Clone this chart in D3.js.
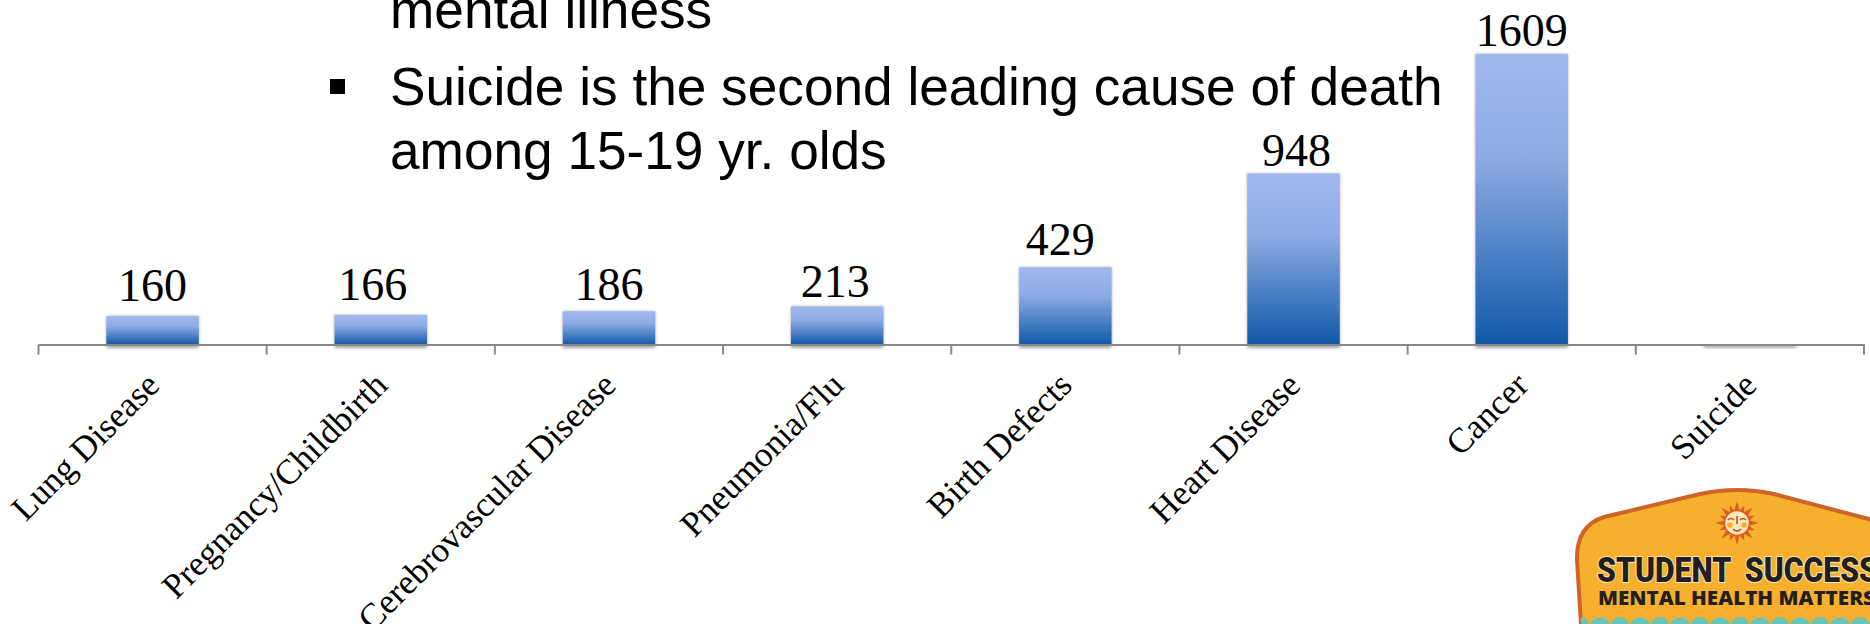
<!DOCTYPE html>
<html>
<head>
<meta charset="utf-8">
<script src="https://cdn.jsdelivr.net/npm/d3@7"></script>
<style>
  html, body { margin: 0; padding: 0; background: #fff; overflow: hidden; }
  svg { display: block; }
</style>
</head>
<body>
<div id="chart"></div>
<script>
const categories = ['Lung Disease', 'Pregnancy/Childbirth', 'Cerebrovascular Disease', 'Pneumonia/Flu', 'Birth Defects', 'Heart Disease', 'Cancer', 'Suicide'];
const deaths = [160, 166, 186, 213, 429, 948, 1609, 0];
const shownLabels = ['160', '166', '186', '213', '429', '948', '1609', ''];
const bulletLines = ['mental illness', 'Suicide is the second leading cause of death', 'among 15-19 yr. olds'];

// labels were dragged by hand in the original slide
const labelNudgeX = [0, -8, 0, -2, -5, 3, 0, 0];
const labelNudgeY = [0, 0, 4, 6, 3, 7, 7, 0];

const width = 1870;
const height = 624;
const axisY = 345;
const axisLeft = 38.5;
const axisRight = 1864;

const svg = d3.select('#chart').append('svg')
  .attr('width', width)
  .attr('height', height)
  .attr('viewBox', [0, 0, width, height].join(' '));

const defs = svg.append('defs');

const grad = defs.append('linearGradient')
  .attr('id', 'barFill')
  .attr('x1', 0).attr('y1', 0).attr('x2', 0).attr('y2', 1);
grad.append('stop').attr('offset', '0%').attr('stop-color', '#9fb9ef');
grad.append('stop').attr('offset', '35%').attr('stop-color', '#8fabe4');
grad.append('stop').attr('offset', '100%').attr('stop-color', '#0f59a9');

defs.append('filter')
  .attr('id', 'barShadow')
  .attr('x', '-10%').attr('y', '-10%').attr('width', '120%').attr('height', '130%')
  .append('feGaussianBlur')
  .attr('stdDeviation', 1.6);

// X axis
const x = d3.scaleBand()
  .range([axisLeft, axisRight])
  .domain(categories)
  .paddingInner(0.595)
  .paddingOuter(0.2975);

// Y axis, hidden in the original
const y = d3.scaleLinear()
  .domain([0, 1609])
  .range([axisY, 54]);

const rows = categories.map((c, i) => ({ name: c, value: deaths[i], label: shownLabels[i], dx: labelNudgeX[i], dy: labelNudgeY[i] }));

// Shadows
svg.append('g').selectAll('rect')
  .data(rows)
  .enter()
  .append('rect')
  .attr('x', d => x(d.name))
  .attr('width', x.bandwidth())
  .attr('y', d => y(d.value))
  .attr('height', d => axisY - y(d.value) + 3)
  .attr('fill', '#8a8a8a')
  .attr('fill-opacity', 0.75)
  .attr('filter', 'url(#barShadow)');

// Bars
svg.append('g').selectAll('rect')
  .data(rows)
  .enter()
  .append('rect')
  .attr('x', d => x(d.name))
  .attr('width', x.bandwidth())
  .attr('y', d => y(d.value))
  .attr('height', d => axisY - y(d.value))
  .attr('fill', 'url(#barFill)');

// Axis line and labels
const axisG = svg.append('g')
  .attr('transform', `translate(0,${axisY - 0.5})`)
  .call(d3.axisBottom(x).tickSize(0).tickSizeOuter(0));

axisG.select('.domain')
  .attr('stroke', '#888')
  .attr('stroke-width', 2);

axisG.selectAll('text')
  .attr('transform', 'translate(0,34)rotate(-45)')
  .attr('x', 0)
  .attr('y', 0)
  .attr('dy', '0.35em')
  .style('text-anchor', 'end')
  .style('font-family', '"Liberation Serif", serif')
  .style('font-size', '35px')
  .style('fill', '#000');

// Ticks sit between the bands
const tickEdges = categories.map(c => x(c) - x.step() * x.paddingInner() / 2);
tickEdges.push(axisRight);
axisG.selectAll('.edge-tick')
  .data(tickEdges)
  .enter()
  .append('line')
  .attr('class', 'edge-tick')
  .attr('x1', d => d)
  .attr('x2', d => d)
  .attr('y1', 0)
  .attr('y2', 10)
  .attr('stroke', '#888')
  .attr('stroke-width', 2);

// Value labels
svg.append('g').selectAll('text')
  .data(rows)
  .enter()
  .append('text')
  .attr('x', d => x(d.name) + x.bandwidth() / 2 + d.dx)
  .attr('y', d => y(d.value) - 15 + d.dy)
  .attr('text-anchor', 'middle')
  .style('font-family', '"Liberation Serif", serif')
  .style('font-size', '46px')
  .style('fill', '#000')
  .text(d => d.label);

// Slide text behind the chart
const slideText = svg.append('g')
  .style('font-family', '"Liberation Sans", Arial, sans-serif')
  .style('font-size', '53.2px')
  .style('fill', '#000');

slideText.selectAll('text')
  .data(bulletLines)
  .enter()
  .append('text')
  .attr('x', 390)
  .attr('y', (d, i) => [28, 105, 169][i])
  .text(d => d);

slideText.append('rect')
  .attr('x', 330).attr('y', 79).attr('width', 15).attr('height', 15);

// Logo in the corner
const logo = svg.append('g');

const badgeShape = 'M1582,640 L1577,560 Q1576,526 1604,517 L1700,494 Q1737,486 1774,494 L1880,522 L1880,640 Z';
const clip = defs.append('clipPath').attr('id', 'badgeClip');
clip.append('path').attr('d', badgeShape);

logo.append('path')
  .attr('d', badgeShape)
  .attr('fill', '#f6b02e')
  .attr('stroke', '#cf6428')
  .attr('stroke-width', 4);

const waves = logo.append('g').attr('clip-path', 'url(#badgeClip)');
waves.selectAll('circle')
  .data(d3.range(1580, 1880, 20))
  .enter()
  .append('circle')
  .attr('cx', d => d)
  .attr('cy', 627)
  .attr('r', 10)
  .attr('fill', '#6cc3b8');

// Sun
const sunX = 1737;
const sunY = 523;
logo.append('g')
  .selectAll('path')
  .data(d3.range(0, 360, 22.5))
  .enter()
  .append('path')
  .attr('d', (d, i) => `M-3,-11 L0,${i % 2 ? -19 : -22} L3,-11 Z`)
  .attr('transform', d => `translate(${sunX},${sunY})rotate(${d})`)
  .attr('fill', '#d9601f');
logo.append('circle').attr('cx', sunX).attr('cy', sunY).attr('r', 12.5).attr('fill', '#fbe7bd').attr('stroke', '#d9601f').attr('stroke-width', 1.5);
logo.append('circle').attr('cx', sunX - 7).attr('cy', sunY + 2).attr('r', 2.8).attr('fill', '#f6b02e');
logo.append('circle').attr('cx', sunX + 7).attr('cy', sunY + 2).attr('r', 2.8).attr('fill', '#f6b02e');
logo.append('path')
  .attr('d', `M${sunX - 9},${sunY - 3} q3,-3 6,0 M${sunX + 3},${sunY - 3} q3,-3 6,0 M${sunX},${sunY - 7} v8 M${sunX - 4},${sunY + 6} q4,4 8,0`)
  .attr('fill', 'none')
  .attr('stroke', '#b94f1c')
  .attr('stroke-width', 1.6);

logo.append('text')
  .attr('x', 1597).attr('y', 582)
  .attr('textLength', 281)
  .attr('lengthAdjust', 'spacingAndGlyphs')
  .style('font-family', 'Roboto, "Liberation Sans", sans-serif')
  .style('font-weight', 900)
  .style('font-size', '35px')
  .style('word-spacing', '8px')
  .style('fill', '#231f20')
  .style('stroke', '#fbe7bd')
  .style('stroke-width', '2px')
  .style('paint-order', 'stroke')
  .text('STUDENT SUCCESS');

logo.append('text')
  .attr('x', 1598).attr('y', 605)
  .attr('textLength', 277)
  .attr('lengthAdjust', 'spacingAndGlyphs')
  .style('font-family', '"Open Sans", "Liberation Sans", sans-serif')
  .style('font-weight', 800)
  .style('font-size', '19.5px')
  .style('fill', '#231f20')
  .text('MENTAL HEALTH MATTERS');
</script>
</body>
</html>
